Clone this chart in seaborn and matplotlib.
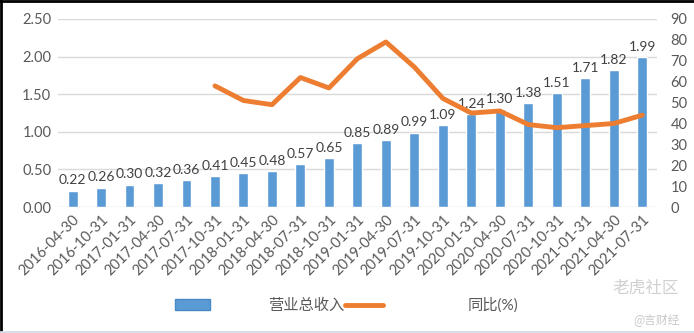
import numpy as np
import pandas as pd
import matplotlib
matplotlib.use("Agg")
import matplotlib.pyplot as plt
import seaborn as sns
from matplotlib.patches import Patch
from matplotlib.lines import Line2D

dates = ["2016-04-30", "2016-10-31", "2017-01-31", "2017-04-30", "2017-07-31",
         "2017-10-31", "2018-01-31", "2018-04-30", "2018-07-31", "2018-10-31",
         "2019-01-31", "2019-04-30", "2019-07-31", "2019-10-31", "2020-01-31",
         "2020-04-30", "2020-07-31", "2020-10-31", "2021-01-31", "2021-04-30",
         "2021-07-31"]
revenue = [0.22, 0.26, 0.30, 0.32, 0.36, 0.41, 0.45, 0.48, 0.57, 0.65,
           0.85, 0.89, 0.99, 1.09, 1.24, 1.30, 1.38, 1.51, 1.71, 1.82, 1.99]
yoy = [np.nan, np.nan, np.nan, np.nan, np.nan, 58, 51, 49, 62, 57,
       71, 79, 67, 52, 45, 46, 39.5, 38, 39, 40, 44]

sns.set_theme(style="white")
plt.rcParams['font.family'] = ['Lato', 'Noto Sans CJK SC', 'DejaVu Sans']

bar_color = "#5B9BD5"
line_color = "#ED7D31"
text_color = "#595959"

df = pd.DataFrame({"date": dates, "revenue": revenue, "yoy": yoy})
df["pos"] = np.arange(len(df))

fig = plt.figure(figsize=(6.94, 3.33), dpi=100)
ax = fig.add_axes([0.084, 0.378, 0.862, 0.565])

sns.barplot(data=df, x="date", y="revenue", color=bar_color, width=0.35,
            saturation=1, ax=ax, zorder=3)
ax.bar_label(ax.containers[0], fmt="%.2f", padding=3, fontsize=10,
             color="#404040")
ax.set_ylim(0, 2.5)
ax.set_yticks(np.arange(0, 2.51, 0.5))
ax.set_yticklabels([f"{v:.2f}" for v in np.arange(0, 2.51, 0.5)])
ax.yaxis.grid(True, color="#D9D9D9", linewidth=1, zorder=0)
ax.set_axisbelow(True)
ax.set_xlabel("")
ax.set_ylabel("")
for s in ax.spines.values():
    s.set_visible(False)
ax.tick_params(axis="both", length=0, colors=text_color, labelsize=10.5)
ax.tick_params(axis="y", pad=5)
ax.tick_params(axis="x", pad=4)
plt.setp(ax.get_xticklabels(), rotation=45, ha="right", rotation_mode="anchor")
ax.set_xlim(-0.5, len(df) - 0.5)

ax2 = ax.twinx()
sns.lineplot(data=df, x="pos", y="yoy", color=line_color, linewidth=3.5,
             ax=ax2, zorder=4)
ax2.set_ylim(0, 90)
ax2.set_yticks(np.arange(0, 91, 10))
ax2.set_xlim(-0.5, len(df) - 0.5)
ax2.set_ylabel("")
ax2.set_xlabel("")
for s in ax2.spines.values():
    s.set_visible(False)
ax2.tick_params(axis="y", length=0, colors=text_color, labelsize=10.5, pad=10)
ax2.grid(False)

leg1 = fig.legend([Patch(facecolor=bar_color, edgecolor="#4a8ac4")], ["营业总收入"],
                  loc="center left", bbox_to_anchor=(175 / 694, 0.083),
                  frameon=False, fontsize=11, handlelength=2.3,
                  handletextpad=3.8, borderpad=0, borderaxespad=0,
                  labelcolor=text_color)
leg2 = fig.legend([Line2D([0], [0], color=line_color, linewidth=3.5)], ["同比(%)"],
                  loc="center left", bbox_to_anchor=(345 / 694, 0.083),
                  frameon=False, fontsize=11, handlelength=2.5,
                  handletextpad=5.5, borderpad=0, borderaxespad=0,
                  labelcolor=text_color)

fig.text(0.883, 0.12, "老虎社区", fontsize=12, color="#d0d0d0",
         family=['Noto Sans CJK SC'])
fig.text(0.912, 0.03, "@言财经", fontsize=8.5, color="#c8c8c8",
         family=['Noto Sans CJK SC'])

# screenshot frame
fig.add_artist(Line2D([0, 1], [0.997, 0.997], color="black", linewidth=2,
                      transform=fig.transFigure))
fig.add_artist(Line2D([0.002, 0.002], [0, 1], color="black", linewidth=2,
                      transform=fig.transFigure))
fig.add_artist(Line2D([0, 1], [0.004, 0.004], color="#d5dde5", linewidth=2,
                      transform=fig.transFigure))

fig.savefig("out.png", dpi=100)
